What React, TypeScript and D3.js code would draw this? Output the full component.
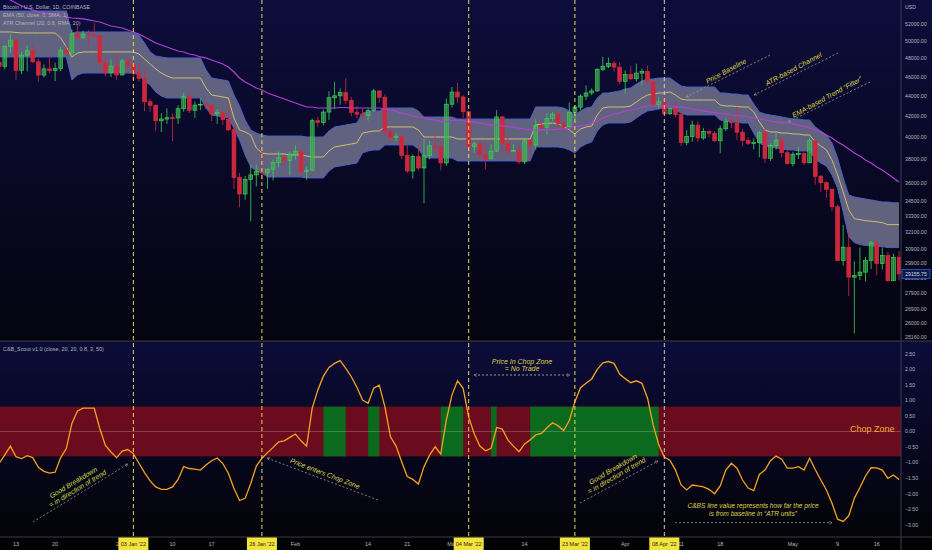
import React from "react";
import * as d3 from "d3";

// ---------- DATA (prices in thousands of USD, one entry per daily bar from 10 Dec 2021) ----------
const START_DAY = "2021-12-10";
const END_DAY = "2022-05-20";

const OPEN = [
  47.60, 47.15, 49.39, 50.10, 46.72, 48.38, 48.88, 47.64, 46.20, 46.87, 46.68, 46.90, 48.95, 48.62, 50.83, 50.43, 50.80, 50.70, 50.64, 47.54, 46.46, 47.12,
  46.21, 47.73, 47.31, 46.44, 45.83, 43.43, 43.08, 41.56, 41.73, 41.86, 41.83, 42.74, 43.95, 42.59, 43.10, 43.18, 43.10, 42.23, 42.38, 41.68, 40.70, 36.46, 35.08, 36.28, 36.67, 36.96, 36.85, 37.15, 37.72, 38.17, 37.92,
  38.48, 38.74, 36.95, 37.08, 41.57, 41.41, 42.41, 43.84, 44.04, 44.36, 43.56, 42.39, 42.20, 42.07, 42.56, 44.54, 43.89, 40.53, 40.00, 40.10, 38.37, 37.00, 38.25, 37.26, 38.33, 39.23, 39.11, 37.70,
  43.19, 44.42, 43.92, 42.45, 39.14, 39.40, 38.42, 38.06, 38.74, 41.94, 39.44, 38.79, 38.81, 37.79, 39.67, 39.29, 41.14, 40.95, 41.80, 42.20, 41.26, 41.00, 42.36, 42.90, 44.00, 44.33, 44.54, 46.82, 47.13, 47.45, 47.06,
  45.54, 46.28, 45.81, 46.41, 46.60, 45.50, 43.17, 43.44, 42.25, 42.75, 42.16, 39.53, 40.08, 41.15, 39.94, 40.55, 40.38, 39.68, 40.80, 41.50, 41.37, 40.48, 39.71, 39.45, 39.52, 40.43, 38.11, 39.24, 39.74, 38.60,
  37.64, 38.47, 38.52, 37.71, 39.69, 36.55, 36.01, 35.47, 34.06, 30.08, 31.02, 28.94, 29.05, 29.28, 30.08, 31.33, 29.86, 30.42, 28.70, 30.30,
];
const HIGH = [
  50.10, 49.50, 50.80, 50.20, 48.70, 49.50, 49.45, 47.99, 47.36, 48.30, 47.54, 49.32, 49.58, 51.37, 51.85, 51.20, 51.30, 52.09, 50.71, 48.15, 47.90, 48.55,
  47.95, 47.99, 47.57, 47.50, 47.07, 43.75, 43.14, 42.30, 42.78, 42.25, 43.08, 44.35, 44.43, 43.45, 43.80, 43.48, 43.20, 42.70, 42.58, 43.50, 41.10, 36.84, 36.58, 37.55, 37.54, 38.95, 37.24, 38.00, 38.72, 38.36, 38.74,
  39.25, 38.85, 37.39, 41.77, 41.94, 42.66, 44.50, 45.49, 44.80, 45.86, 43.94, 43.00, 42.74, 42.83, 44.75, 44.55, 44.18, 40.98, 40.46, 40.15, 39.49, 38.45, 39.25, 39.85, 39.72, 40.30, 39.86, 43.76,
  44.95, 45.40, 44.10, 42.52, 39.62, 39.68, 39.55, 39.37, 42.60, 41.99, 40.22, 39.37, 39.30, 39.93, 39.87, 41.72, 41.47, 42.32, 42.40, 42.30, 41.54, 43.36, 43.10, 44.20, 45.10, 44.80, 46.94, 48.20, 48.10, 47.70, 47.60,
  46.71, 47.20, 47.44, 46.89, 47.20, 45.51, 43.90, 43.97, 42.80, 43.42, 42.42, 40.69, 41.56, 41.50, 40.87, 40.70, 40.60, 41.10, 41.76, 42.20, 42.98, 40.80, 39.98, 39.90, 40.60, 40.79, 39.45, 40.38, 39.92, 38.80,
  38.68, 39.16, 38.64, 39.97, 39.84, 36.65, 36.13, 35.50, 34.24, 32.66, 32.19, 30.03, 31.00, 30.32, 31.46, 31.33, 31.00, 30.67, 30.55, 30.76,
];
const LOW = [
  46.90, 46.80, 48.65, 45.70, 46.30, 46.60, 47.50, 45.50, 45.96, 46.40, 45.56, 46.63, 48.45, 48.05, 50.30, 50.22, 49.45, 50.46, 47.32, 46.10, 46.00, 45.68,
  46.20, 46.65, 45.70, 45.50, 42.50, 42.43, 40.61, 40.50, 41.26, 39.65, 41.27, 42.45, 42.31, 41.85, 42.60, 42.70, 41.54, 41.25, 41.15, 40.59, 35.50, 34.01, 34.60, 32.93, 35.70, 36.25, 35.50, 36.20, 37.32, 37.38, 36.63,
  38.00, 36.63, 36.25, 36.98, 40.96, 41.12, 41.65, 42.68, 43.15, 43.20, 42.00, 41.78, 41.86, 41.57, 42.42, 43.33, 40.10, 39.50, 39.67, 38.02, 36.82, 36.36, 37.05, 34.33, 38.01, 38.60, 37.05, 37.45,
  42.86, 43.35, 41.85, 38.60, 38.60, 38.10, 37.16, 38.01, 38.66, 38.56, 38.24, 38.66, 37.60, 37.58, 38.13, 38.85, 40.53, 40.20, 41.53, 40.92, 40.50, 40.88, 41.75, 42.60, 43.61, 44.10, 44.43, 46.64, 46.95, 46.58, 45.22,
  44.24, 45.65, 45.52, 45.12, 45.36, 43.12, 42.73, 42.11, 42.13, 41.88, 39.20, 39.26, 39.59, 39.56, 39.77, 40.01, 39.56, 38.55, 40.58, 40.85, 39.77, 39.18, 39.30, 38.90, 38.20, 37.70, 37.88, 38.87, 38.18, 37.58,
  37.40, 38.05, 37.52, 37.68, 35.85, 35.26, 34.76, 33.71, 30.03, 29.73, 27.70, 25.40, 28.75, 28.65, 29.48, 29.08, 29.46, 28.66, 28.70, 28.72,
];
const CLOSE = [
  47.15, 49.39, 50.10, 46.72, 48.38, 48.88, 47.64, 46.20, 46.87, 46.68, 46.90, 48.95, 48.62, 50.83, 50.43, 50.80, 50.70, 50.64, 47.54, 46.46, 47.12, 46.21,
  47.73, 47.31, 46.44, 45.83, 43.43, 43.08, 41.56, 41.73, 41.86, 41.83, 42.74, 43.95, 42.59, 43.10, 43.18, 43.10, 42.23, 42.38, 41.68, 40.70, 36.46, 35.08, 36.28, 36.67, 36.96, 36.85, 37.15, 37.72, 38.17, 37.92, 38.48,
  38.74, 36.95, 37.08, 41.57, 41.41, 42.41, 43.84, 44.04, 44.36, 43.56, 42.39, 42.20, 42.07, 42.56, 44.54, 43.89, 40.53, 40.00, 40.10, 38.37, 37.00, 38.25, 37.26, 38.33, 39.23, 39.11, 37.70, 43.19,
  44.42, 43.92, 42.45, 39.14, 39.40, 38.42, 38.06, 38.74, 41.94, 39.44, 38.79, 38.81, 37.79, 39.67, 39.29, 41.14, 40.95, 41.80, 42.20, 41.26, 41.00, 42.36, 42.90, 44.00, 44.33, 44.54, 46.82, 47.13, 47.45, 47.06, 45.54,
  46.28, 45.81, 46.41, 46.60, 45.50, 43.17, 43.44, 42.25, 42.75, 42.16, 39.53, 40.08, 41.15, 39.94, 40.55, 40.38, 39.68, 40.80, 41.50, 41.37, 40.48, 39.71, 39.45, 39.52, 40.43, 38.11, 39.24, 39.74, 38.60, 37.64,
  38.47, 38.52, 37.71, 39.69, 36.55, 36.01, 35.47, 34.06, 30.08, 31.02, 28.94, 29.05, 29.28, 30.08, 31.33, 29.86, 30.42, 28.70, 30.30, 29.16,
];
const BASELINE = [
  51.05, 51.05, 51.05, 50.99, 50.93, 50.93, 50.93, 50.93, 50.93, 50.93, 50.93, 50.34, 49.31, 48.18, 48.62, 48.74, 48.74, 48.74, 48.74, 48.74, 48.74, 48.74,
  48.74, 48.74, 48.74, 48.51, 47.95, 47.40, 46.86, 46.42, 46.10, 45.89, 45.89, 45.89, 45.89, 45.89, 45.89, 44.84, 44.12, 44.02, 43.92, 43.81, 41.83, 40.69, 40.50, 40.22, 39.03, 38.58, 38.49, 38.49, 38.49, 38.49, 38.40,
  38.40, 38.40, 38.31, 38.22, 38.22, 38.22, 38.76, 39.12, 39.21, 39.30, 39.39, 39.48, 40.40, 40.50, 40.59, 40.59, 40.97, 40.97, 40.97, 40.97, 40.97, 40.97, 40.69, 40.03, 40.03, 40.03, 40.03, 40.03,
  40.03, 39.85, 39.85, 39.85, 39.85, 39.85, 39.85, 39.85, 39.85, 39.85, 39.85, 39.85, 39.85, 39.85, 39.85, 41.16, 41.25, 41.30, 41.35, 41.25, 41.06, 40.69, 40.31, 40.78, 40.97, 41.06, 42.12, 42.81, 42.91, 42.91, 42.91,
  42.91, 43.01, 43.41, 43.81, 44.12, 44.22, 44.32, 44.32, 44.43, 44.12, 43.71, 43.61, 43.61, 43.61, 43.61, 43.61, 43.61, 43.11, 43.01, 43.01, 42.96, 42.91, 42.91, 42.42, 41.45, 40.69, 40.50, 40.50, 40.40, 40.40,
  40.31, 40.31, 40.22, 40.22, 39.57, 39.21, 38.85, 37.96, 36.66, 35.25, 33.82, 33.13, 33.06, 32.98, 32.94, 32.90, 32.83, 32.68, 32.68, 32.68,
];
const UPPER = [
  53.59, 53.59, 53.59, 53.59, 53.59, 53.59, 53.59, 53.59, 53.59, 53.59, 53.59, 53.59, 53.59, 50.93, 51.05, 51.05, 51.05, 51.05, 51.05, 51.05, 51.05, 51.05,
  51.05, 51.05, 50.93, 50.69, 49.76, 48.74, 48.29, 48.18, 48.07, 48.07, 48.07, 48.07, 48.07, 48.07, 48.07, 46.75, 45.89, 45.78, 45.68, 45.57, 44.12, 43.01, 41.64, 40.69, 40.40, 40.22, 40.12, 40.12, 40.12, 40.12, 40.12,
  40.12, 40.12, 40.03, 40.03, 40.03, 40.03, 40.59, 40.97, 41.06, 41.16, 41.25, 41.35, 42.32, 42.42, 42.52, 42.52, 42.81, 42.81, 42.81, 42.81, 42.81, 42.81, 42.52, 41.93, 41.93, 41.93, 41.93, 41.93,
  41.93, 41.73, 41.73, 41.73, 41.73, 41.73, 41.73, 41.73, 41.73, 41.73, 41.73, 41.73, 41.73, 41.73, 41.73, 42.91, 42.91, 42.91, 42.91, 42.91, 42.81, 42.52, 42.12, 42.52, 42.81, 42.91, 43.81, 44.32, 44.32, 44.43, 44.53,
  44.74, 44.84, 45.26, 45.57, 45.78, 45.78, 45.89, 45.89, 45.89, 45.47, 45.05, 44.94, 44.94, 44.94, 44.94, 44.94, 44.94, 44.32, 44.32, 44.22, 44.22, 44.12, 44.12, 43.21, 42.42, 42.22, 42.12, 42.03, 41.93, 41.83,
  41.73, 41.73, 41.64, 41.64, 40.97, 40.59, 40.22, 39.48, 38.13, 36.41, 35.00, 34.84, 34.76, 34.68, 34.60, 34.52, 34.44, 34.44, 34.37, 34.37,
];
const LOWER = [
  48.18, 48.18, 48.18, 48.18, 48.18, 48.18, 48.18, 48.18, 48.18, 48.18, 48.18, 48.18, 48.18, 45.68, 46.21, 46.42, 46.42, 46.42, 46.42, 46.42, 46.42, 46.42,
  46.42, 46.42, 46.42, 46.21, 45.57, 45.15, 44.43, 44.02, 43.81, 43.81, 43.81, 43.81, 43.81, 43.81, 43.81, 42.81, 42.12, 42.03, 41.93, 41.83, 40.87, 39.76, 38.40, 37.35, 37.00, 36.83, 36.49, 36.49, 36.49, 36.49, 36.49,
  36.49, 36.49, 36.41, 36.41, 36.41, 36.41, 37.00, 37.35, 37.43, 37.52, 37.61, 37.69, 38.58, 38.76, 38.85, 38.85, 39.30, 39.30, 39.30, 39.30, 39.30, 39.30, 38.94, 38.22, 38.13, 38.13, 38.13, 38.13,
  38.13, 37.87, 37.87, 37.87, 37.87, 37.87, 37.87, 37.87, 37.87, 37.87, 37.87, 37.87, 37.87, 37.87, 37.87, 39.12, 39.12, 39.12, 39.12, 39.12, 39.03, 38.85, 38.58, 39.12, 39.39, 39.57, 40.59, 41.16, 41.35, 41.35, 41.35,
  41.35, 41.45, 41.83, 42.22, 42.52, 42.61, 42.71, 42.81, 42.81, 42.61, 42.32, 42.12, 42.12, 42.12, 42.12, 42.12, 42.12, 41.64, 41.54, 41.45, 41.45, 41.35, 41.35, 40.40, 39.48, 39.21, 39.12, 39.03, 38.94, 38.85,
  38.85, 38.76, 38.76, 38.76, 38.04, 37.69, 37.43, 36.66, 35.57, 33.67, 31.78, 31.35, 31.21, 31.14, 31.14, 31.06, 31.06, 30.99, 30.99, 30.99,
];
const EMA50 = [
  55.74, 55.35, 54.97, 54.59, 54.21, 53.96, 53.71, 53.47, 53.34, 53.22, 53.10, 52.97, 52.85, 52.73, 52.67, 52.61, 52.49, 52.36, 52.24, 52.00, 51.76, 51.64,
  51.52, 51.28, 51.05, 50.81, 50.46, 50.11, 49.76, 49.53, 49.31, 49.08, 48.85, 48.74, 48.51, 48.40, 48.18, 48.07, 47.84, 47.62, 47.40, 47.07, 46.53, 45.89, 45.47, 45.15, 44.84, 44.63, 44.32, 44.12, 43.92, 43.71, 43.51,
  43.31, 43.11, 42.91, 42.91, 42.81, 42.81, 42.81, 42.81, 42.86, 42.86, 42.81, 42.81, 42.81, 42.81, 42.81, 42.81, 42.71, 42.61, 42.47, 42.32, 42.17, 42.03, 41.93, 41.83, 41.73, 41.64, 41.49, 41.49,
  41.59, 41.64, 41.59, 41.49, 41.45, 41.35, 41.25, 41.16, 41.16, 41.06, 40.97, 40.97, 40.87, 40.78, 40.69, 40.69, 40.69, 40.69, 40.73, 40.78, 40.78, 40.87, 40.97, 41.06, 41.16, 41.35, 41.54, 41.83, 42.03, 42.22, 42.32,
  42.52, 42.61, 42.71, 42.91, 43.01, 43.01, 43.01, 43.01, 43.01, 42.91, 42.91, 42.81, 42.71, 42.61, 42.52, 42.42, 42.37, 42.32, 42.22, 42.12, 42.07, 42.03, 41.93, 41.83, 41.73, 41.64, 41.54, 41.45, 41.40, 41.35,
  41.25, 41.16, 41.02, 40.87, 40.69, 40.50, 40.22, 39.94, 39.57, 39.30, 38.94, 38.58, 38.31, 37.96, 37.69, 37.35, 37.09, 36.75, 36.41, 36.07,
];
const CBS = [
  -1.02, -0.75, -0.47, -0.81, -0.87, -0.78, -0.84, -1.15, -1.28, -1.34, -1.31, -0.84, -0.55, 0.26, 0.66, 0.75, 0.75, 0.75, 0.09, -0.45, -0.66, -0.84,
  -0.63, -0.58, -0.71, -1.02, -1.32, -1.59, -1.78, -1.86, -1.86, -1.78, -1.54, -1.13, -1.19, -1.21, -1.24, -1.08, -0.94, -0.85, -1.03, -1.34, -1.83, -2.22, -2.15, -1.67, -1.11, -0.86, -0.68, -0.51, -0.33, -0.30, -0.19,
  -0.08, -0.30, -0.47, 0.75, 1.33, 1.78, 2.06, 2.19, 2.28, 2.03, 1.76, 1.42, 1.01, 0.91, 1.39, 1.49, 0.80, -0.17, -0.47, -0.97, -1.45, -1.54, -1.69, -1.13, -0.76, -0.49, -0.73, 0.37,
  1.17, 1.63, 1.39, 0.46, -0.08, -0.47, -0.62, -0.54, 0.13, 0.08, -0.27, -0.47, -0.65, -0.40, -0.27, -0.11, -0.06, 0.12, 0.28, 0.18, 0.03, 0.35, 0.96, 1.41, 1.55, 1.69, 2.00, 2.21, 2.25, 2.19, 1.85,
  1.70, 1.57, 1.63, 1.55, 1.07, 0.21, -0.43, -0.82, -0.92, -1.24, -1.72, -1.88, -1.72, -1.75, -1.78, -1.86, -2.00, -1.75, -1.24, -1.02, -1.18, -1.56, -1.82, -1.90, -1.38, -1.24, -0.94, -0.79, -0.89, -1.18,
  -1.18, -1.13, -1.24, -0.86, -1.22, -1.56, -1.88, -2.31, -2.82, -2.89, -2.71, -2.15, -1.80, -1.43, -1.16, -1.17, -1.24, -1.51, -1.40, -1.54,
];
const CHOP = 0.8;
const LAST_PRICE = 29155.75;

const PRICE_TICKS = [52000, 50000, 48000, 46000, 44000, 42000, 40000, 38000, 36000, 34500, 33300, 32100, 30900, 29900, 28900, 27900, 26900, 26000, 25160];
const CBS_TICKS = [2.5, 2, 1.5, 1, 0.5, 0, -0.5, -1, -1.5, -2, -2.5, -3];
const TIME_TICKS: [string, string][] = [
  ["2021-12-13", "13"], ["2021-12-20", "20"], ["2022-01-01", "2022"], ["2022-01-10", "10"], ["2022-01-17", "17"],
  ["2022-02-01", "Feb"], ["2022-02-14", "14"], ["2022-02-21", "21"], ["2022-03-01", "Mar"],
  ["2022-03-14", "14"], ["2022-04-01", "Apr"], ["2022-04-11", "11"], ["2022-04-18", "18"],
  ["2022-05-01", "May"], ["2022-05-09", "9"], ["2022-05-16", "16"],
];
const MARKERS: [string, string, string][] = [
  ["2022-01-03", "03 Jan '22", "#e6d95a"],
  ["2022-01-26", "26 Jan '22", "#e6d95a"],
  ["2022-03-04", "04 Mar '22", "#e6d95a"],
  ["2022-03-23", "23 Mar '22", "#e6d95a"],
  ["2022-04-08", "08 Apr '22", "#cfcbb4"],
];

// ---------- LAYOUT ----------
const W = 932;
const H = 550;
const PLOT_R = 901;
const SEP_Y = 341;
const AXIS_Y = 537;
const FONT = "'Liberation Sans', Arial, sans-serif";
const AXIS_COLOR = "#b2b5be";
const GRID_LINE = "#3b3d4a";
const ANNO = "#ddd24a";
const DASH = "#9d9b85";

const parse = (s: string) => new Date(s + "T00:00:00Z");

export default function App() {
  const dates = d3.utcDay.range(parse(START_DAY), d3.utcDay.offset(parse(END_DAY), 1));
  const x = d3.scaleUtc().domain([parse("2021-12-13"), parse("2022-05-16")]).range([16, 876.7]);
  const y = d3.scaleLog().domain([52000, 25160]).range([24, 337.6]);
  const yk = (v: number) => y(v * 1000);
  const yo = d3.scaleLinear().domain([2.5, -3]).range([353.75, 524.8]);
  const idx = d3.range(dates.length);
  const xi = (i: number) => x(dates[i]);
  const bw = 3.8;

  const band = d3.area<number>().x(xi).y0((i) => yk(LOWER[i])).y1((i) => yk(UPPER[i]))(idx) || "";
  const lineOf = (arr: number[]) => d3.line<number>().x(xi).y((i) => yk(arr[i]))(idx) || "";
  const cbsLine = d3.line<number>().x(xi).y((i) => yo(CBS[i]))(idx) || "";
  const fmtP = d3.format(".2f");
  const fmtO = d3.format(".2f");

  // merge consecutive bullish bars (close above EMA) into runs for the chop-zone shading
  const runs: [number, number][] = [];
  idx.slice(1).forEach((i) => {
    if (CLOSE[i] > EMA50[i]) {
      const last = runs[runs.length - 1];
      if (last && last[1] === i - 1) last[1] = i;
      else runs.push([i - 1, i]);
    }
  });

  const rotText = (cx: number, cy: number, ang: number, txt: string, size = 7, fill = ANNO) => (
    <text
      transform={`translate(${cx},${cy}) rotate(${ang})`}
      textAnchor="middle"
      dy="0.35em"
      fontSize={size}
      fontStyle="italic"
      fill={fill}
      fontFamily={FONT}
    >
      {txt}
    </text>
  );

  return (
    <div>
      <style>{`body{margin:0;background:#000}`}</style>
      <svg width={W} height={H} style={{ display: "block" }} fontFamily={FONT}>
        <defs>
          <linearGradient id="bgTop" x1="0" y1="0" x2="0" y2="1">
            <stop offset="0" stopColor="#0d0d3c" />
            <stop offset="1" stopColor="#04040f" />
          </linearGradient>
          <linearGradient id="bgBot" x1="0" y1="0" x2="0" y2="1">
            <stop offset="0" stopColor="#0c0c3a" />
            <stop offset="1" stopColor="#030308" />
          </linearGradient>
          <clipPath id="clipTop">
            <rect x={0} y={0} width={PLOT_R} height={SEP_Y} />
          </clipPath>
          <clipPath id="clipBot">
            <rect x={0} y={SEP_Y} width={PLOT_R} height={AXIS_Y - SEP_Y} />
          </clipPath>
          <marker id="arr" viewBox="0 0 6 6" refX="5" refY="3" markerWidth="5" markerHeight="5" orient="auto-start-reverse">
            <path d="M0.5,0.8 L5,3 L0.5,5.2" fill="none" stroke={DASH} strokeWidth="0.9" />
          </marker>
        </defs>

        {/* backgrounds */}
        <rect x={0} y={0} width={W} height={SEP_Y} fill="url(#bgTop)" />
        <rect x={0} y={SEP_Y} width={W} height={AXIS_Y - SEP_Y} fill="url(#bgBot)" />
        <rect x={0} y={AXIS_Y} width={W} height={H - AXIS_Y} fill="#020205" />

        {/* ---------- top pane ---------- */}
        <g clipPath="url(#clipTop)">
          <path d={band} fill="#686a87" opacity={0.92} />
          <path d={lineOf(UPPER)} fill="none" stroke="#4a5fcc" strokeWidth={1} />
          <path d={lineOf(LOWER)} fill="none" stroke="#4a5fcc" strokeWidth={1} />
          <path d={lineOf(BASELINE)} fill="none" stroke="#d9c96e" strokeWidth={0.9} />
          {idx.map((i) => {
            const up = CLOSE[i] >= OPEN[i];
            const cx = xi(i);
            const yTop = yk(Math.max(OPEN[i], CLOSE[i]));
            const yBot = yk(Math.min(OPEN[i], CLOSE[i]));
            const col = up ? "#3ad052" : "#d42a40";
            return (
              <g key={i}>
                <line x1={cx} x2={cx} y1={yk(HIGH[i])} y2={yk(LOW[i])} stroke={col} strokeWidth={0.8} />
                <rect
                  x={cx - bw / 2}
                  y={yTop}
                  width={bw}
                  height={Math.max(0.8, yBot - yTop)}
                  fill={up ? "rgba(60,175,80,0.6)" : "#cc283c"}
                  stroke={col}
                  strokeWidth={0.7}
                />
              </g>
            );
          })}
          <path d={lineOf(EMA50)} fill="none" stroke="#b340d6" strokeWidth={1.2} />
        </g>

        {/* ---------- lower pane ---------- */}
        <g clipPath="url(#clipBot)">
          <rect x={xi(0)} y={yo(CHOP)} width={PLOT_R - xi(0)} height={yo(-CHOP) - yo(CHOP)} fill="#6a0b1e" />
          {runs.map(([a, b]) => (
            <rect key={a} x={xi(a)} y={yo(CHOP)} width={xi(b) - xi(a)} height={yo(-CHOP) - yo(CHOP)} fill="#0b6a1d" />
          ))}
          <line x1={0} x2={PLOT_R} y1={yo(0)} y2={yo(0)} stroke="rgba(210,200,220,0.35)" strokeWidth={0.8} />
          <path d={cbsLine} fill="none" stroke="#f5a21c" strokeWidth={1.3} />
        </g>

        {/* vertical marker lines */}
        {MARKERS.map(([d, , c]) => (
          <line key={d} x1={x(parse(d))} x2={x(parse(d))} y1={0} y2={AXIS_Y} stroke={c} strokeWidth={1} strokeDasharray="4,3" />
        ))}

        {/* frame lines */}
        <line x1={0} x2={W} y1={SEP_Y} y2={SEP_Y} stroke={GRID_LINE} strokeWidth={1} />
        <line x1={PLOT_R} x2={PLOT_R} y1={0} y2={H} stroke={GRID_LINE} strokeWidth={1} />
        <line x1={0} x2={W} y1={AXIS_Y} y2={AXIS_Y} stroke={GRID_LINE} strokeWidth={1} />

        {/* legends */}
        <g fontSize={5.4} fill={AXIS_COLOR}>
          <text x={3} y={9}>Bitcoin / U.S. Dollar, 1D, COINBASE</text>
          <text x={3} y={17}>EMA (50, close, 0, SMA, 1)</text>
          <text x={3} y={25}>ATR Channel (20, 0.8, RMA, 20)</text>
          <text x={3} y={351}>C&amp;B_Scout v1.0 (close, 20, 20, 0.8, 3, 50)</text>
        </g>

        {/* price axis */}
        <g fontSize={5.2} fill={AXIS_COLOR}>
          <text x={905} y={9}>USD</text>
          {PRICE_TICKS.map((v) => (
            <text key={v} x={905} y={y(v)} dy="0.35em">{fmtP(v)}</text>
          ))}
          {CBS_TICKS.map((v) => (
            <text key={v} x={905} y={yo(v)} dy="0.35em">{fmtO(v)}</text>
          ))}
        </g>
        <rect x={902} y={y(LAST_PRICE) - 4.6} width={28} height={9.2} fill="#0c1a44" stroke="#2f5fe0" strokeWidth={0.8} />
        <text x={916} y={y(LAST_PRICE)} dy="0.35em" fontSize={5.2} textAnchor="middle" fill="#cdd8ff">{fmtP(LAST_PRICE)}</text>

        {/* time axis */}
        <g fontSize={5.5} fill={AXIS_COLOR} textAnchor="middle">
          {TIME_TICKS.map(([d, l]) => (
            <text key={d + l} x={x(parse(d))} y={545.5}>{l}</text>
          ))}
        </g>
        {MARKERS.map(([d, l]) => (
          <g key={"b" + d}>
            <rect x={x(parse(d)) - 15} y={537.5} width={30} height={12.5} fill="#f3e43c" />
            <text x={x(parse(d))} y={545.5} fontSize={5.5} textAnchor="middle" fill="#1b1b1b">{l}</text>
          </g>
        ))}

        {/* ---------- annotations: top pane ---------- */}
        <line x1={770} y1={55} x2={686} y2={97} stroke={DASH} strokeWidth={0.8} strokeDasharray="2,2" markerEnd="url(#arr)" />
        {rotText(726, 71, -28, "Price Baseline")}
        <line x1={838} y1={53} x2={754} y2={95} stroke={DASH} strokeWidth={0.8} strokeDasharray="2,2" markerEnd="url(#arr)" />
        {rotText(793.5, 69, -28, "ATR-based Channel")}
        <line x1={870} y1={82} x2={788} y2={122} stroke={DASH} strokeWidth={0.8} strokeDasharray="2,2" markerEnd="url(#arr)" />
        {rotText(827, 97, -28.5, "EMA-based Trend \u201CFilter\u201D")}

        {/* ---------- annotations: lower pane ---------- */}
        <line x1={33} y1={522} x2={128} y2={464} stroke={DASH} strokeWidth={0.8} strokeDasharray="2,2" markerEnd="url(#arr)" />
        {rotText(73.3, 482.5, -31, "Good Breakdown", 7, "#c9da4a")}
        {rotText(77.5, 488.6, -31, "= in direction of trend", 7, "#c9da4a")}

        <line x1={378} y1={500} x2={267} y2={458} stroke={DASH} strokeWidth={0.8} strokeDasharray="2,2" markerEnd="url(#arr)" />
        {rotText(325, 473.5, 21, "Price enters Chop Zone")}

        <text x={522} y={361.7} dy="0.35em" textAnchor="middle" fontSize={7} fontStyle="italic" fill={ANNO}>Price In Chop Zone</text>
        <text x={522} y={369} dy="0.35em" textAnchor="middle" fontSize={7} fontStyle="italic" fill={ANNO}>= No Trade</text>
        <line x1={474} y1={375} x2={570} y2={375} stroke="#b9b9b9" strokeWidth={0.8} strokeDasharray="2,2" markerStart="url(#arr)" markerEnd="url(#arr)" />

        <line x1={580} y1={503} x2={658} y2={461} stroke={DASH} strokeWidth={0.8} strokeDasharray="2,2" markerEnd="url(#arr)" />
        {rotText(613, 469, -30, "Good Breakdown")}
        {rotText(616.5, 475.5, -30, "= in direction of trend")}

        <text x={753} y={505.7} dy="0.35em" textAnchor="middle" fontSize={6.6} fontStyle="italic" fill={ANNO}>C&amp;BS line value represents how far the price</text>
        <text x={753} y={513.3} dy="0.35em" textAnchor="middle" fontSize={6.6} fontStyle="italic" fill={ANNO}>is from baseline in {"\u201CATR units\u201D"}</text>
        <line x1={675} y1={522.7} x2={832} y2={522.7} stroke={DASH} strokeWidth={0.8} strokeDasharray="2,2" markerEnd="url(#arr)" />

        <text x={850} y={yo(0) - 3} dy="0.35em" fontSize={9} fill="#f2ad38">Chop Zone</text>
      </svg>
    </div>
  );
}
